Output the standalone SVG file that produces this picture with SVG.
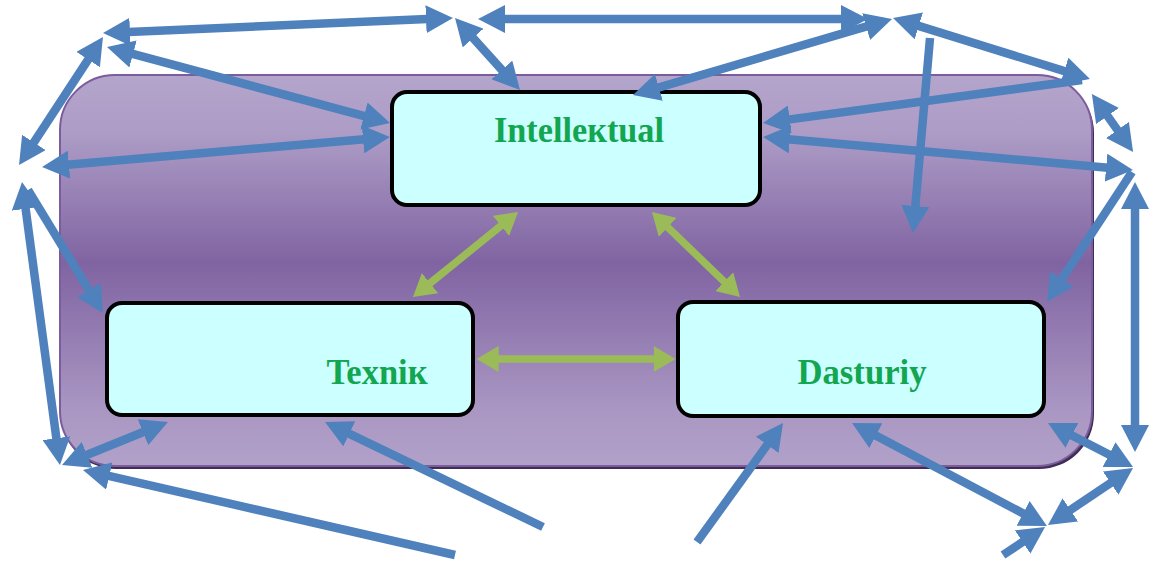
<svg xmlns="http://www.w3.org/2000/svg" width="1156" height="561" viewBox="0 0 1156 561">
<style>
.node{fill:#ccffff;stroke:#000;stroke-width:4}
.lbl{font-family:"Liberation Serif","Times New Roman",serif;font-weight:bold;font-size:36px;fill:#12a650;text-anchor:middle}
.b{stroke:#4f81bd;stroke-width:8.5;fill:none}
.b2{marker-start:url(#ab);marker-end:url(#ab)}
.be{marker-end:url(#ab)}
.bs{marker-start:url(#ab)}
.g{stroke:#9bbb59;stroke-width:7.5;fill:none;marker-start:url(#ag);marker-end:url(#ag)}
</style>
<defs>
<linearGradient id="bg" x1="0" y1="0" x2="0" y2="1">
<stop offset="0" stop-color="#b4a5cc"/>
<stop offset="0.15" stop-color="#ad9cc6"/>
<stop offset="0.48" stop-color="#8064a2"/>
<stop offset="0.85" stop-color="#a996c2"/>
<stop offset="1" stop-color="#b1a1c9"/>
</linearGradient>
<marker id="ab" markerUnits="userSpaceOnUse" markerWidth="27" markerHeight="28" refX="13" refY="14" orient="auto-start-reverse" viewBox="0 0 27 28">
<path d="M0,0 L27,14 L0,28 z" fill="#4f81bd"/>
</marker>
<marker id="ag" markerUnits="userSpaceOnUse" markerWidth="22" markerHeight="26" refX="10" refY="13" orient="auto-start-reverse" viewBox="0 0 22 26">
<path d="M0,0 L22,13 L0,26 z" fill="#9bbb59"/>
</marker>
</defs>
<g id="background">
<rect x="61" y="78" width="1033" height="391" rx="55" fill="#3f2d55"/>
<rect x="60" y="75" width="1032" height="391" rx="55" fill="url(#bg)" stroke="#7b5c9c" stroke-width="2"/>
</g>
<g id="node-intellektual">
<rect class="node" x="392" y="92" width="368" height="113" rx="15"/>
<text class="lbl" x="579" y="142" textLength="170" lengthAdjust="spacingAndGlyphs">Intelleкtual</text>
</g>
<g id="node-texnik">
<rect class="node" x="107" y="303" width="366" height="112" rx="15"/>
<text class="lbl" x="377" y="384" textLength="101" lengthAdjust="spacingAndGlyphs">Texniк</text>
</g>
<g id="node-dasturiy">
<rect class="node" x="678" y="302" width="366" height="114" rx="15"/>
<text class="lbl" x="862" y="384" textLength="129" lengthAdjust="spacingAndGlyphs">Dasturiy</text>
</g>
<g id="connectors">
<line class="g" x1="422.3" y1="289.5" x2="508.7" y2="219.5"/>
<line class="g" x1="660.6" y1="220.4" x2="731.4" y2="288.6"/>
<line class="g" x1="488.6" y1="359" x2="663.6" y2="359"/>
<line class="b b2" x1="117" y1="32.4" x2="439" y2="18.6"/>
<line class="b b2" x1="120.5" y1="50.6" x2="376.5" y2="119.4"/>
<line class="b b2" x1="26.7" y1="153.3" x2="95.3" y2="48.7"/>
<line class="b b2" x1="56" y1="165.8" x2="376" y2="138.2"/>
<line class="b b2" x1="23.9" y1="195.9" x2="58.1" y2="451.1"/>
<line class="b be" x1="28" y1="190" x2="95.6" y2="301.1"/>
<line class="b b2" x1="75" y1="459.7" x2="155" y2="427.3"/>
<line class="b bs" x1="96.6" y1="473.1" x2="455" y2="555"/>
<line class="b be" x1="543" y1="527" x2="337.6" y2="428.1"/>
<line class="b be" x1="697" y1="542" x2="774.8" y2="434.3"/>
<line class="b b2" x1="864.4" y1="429.5" x2="1034.6" y2="519.5"/>
<line class="b b2" x1="1060.4" y1="429.4" x2="1120.6" y2="460.6"/>
<line class="b b2" x1="1121.4" y1="475.8" x2="1059.6" y2="517.2"/>
<line class="b be" x1="1003" y1="555" x2="1033.4" y2="534.8"/>
<line class="b b2" x1="1135" y1="196" x2="1135" y2="438"/>
<line class="b be" x1="1132" y1="172" x2="1054.7" y2="290"/>
<line class="b b2" x1="777" y1="138.2" x2="1119" y2="168.8"/>
<line class="b be" x1="1082" y1="80" x2="776.9" y2="121.1"/>
<line class="b b2" x1="906.4" y1="22.1" x2="1076.6" y2="74.9"/>
<line class="b b2" x1="1100" y1="105.4" x2="1125" y2="140.6"/>
<line class="b be" x1="930" y1="38" x2="914.2" y2="219"/>
<line class="b b2" x1="646.4" y1="91.1" x2="878.6" y2="22.9"/>
<line class="b b2" x1="492" y1="19" x2="854" y2="19"/>
<line class="b b2" x1="464.4" y1="28.4" x2="510.6" y2="79.6"/>
</g>
</svg>
